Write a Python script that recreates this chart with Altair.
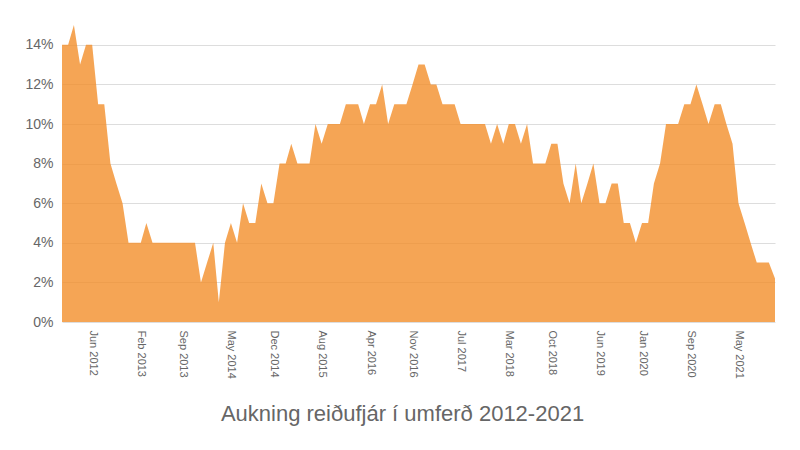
import altair as alt
import pandas as pd

# Monthly growth of currency in circulation (%), Jan 2012 - Nov 2021
values = [
    14, 14, 15, 13, 14, 14, 11, 11, 8, 7, 6, 4,          # 2012
    4, 4, 5, 4, 4, 4, 4, 4, 4, 4, 4, 2,                  # 2013
    3, 4, 1, 4, 5, 4, 6, 5, 5, 7, 6, 6,                  # 2014
    8, 8, 9, 8, 8, 8, 10, 9, 10, 10, 10, 11,             # 2015
    11, 11, 10, 11, 11, 12, 10, 11, 11, 11, 12, 13,      # 2016
    13, 12, 12, 11, 11, 11, 10, 10, 10, 10, 10, 9,       # 2017
    10, 9, 10, 10, 9, 10, 8, 8, 8, 9, 9, 7,              # 2018
    6, 8, 6, 7, 8, 6, 6, 7, 7, 5, 5, 4,                  # 2019
    5, 5, 7, 8, 10, 10, 10, 11, 11, 12, 11, 10,          # 2020
    11, 11, 10, 9, 6, 5, 4, 3, 3, 3, 2.2,                # 2021
]
months = [f"{2012 + i // 12}-{i % 12 + 1:02d}-01T00:00:00" for i in range(len(values))]

tick_months = [
    (2012, 6), (2013, 2), (2013, 9), (2014, 5), (2014, 12), (2015, 8),
    (2016, 4), (2016, 11), (2017, 7), (2018, 3), (2018, 10), (2019, 6),
    (2020, 1), (2020, 9), (2021, 5),
]
y_ticks = [0, 2, 4, 6, 8, 10, 12, 14]

df = pd.DataFrame({"date": months, "value": values})

FONT = "Liberation Sans"
GREY = "#666666"

chart = (
    alt.Chart(df)
    .mark_area(color="#f28e2b", opacity=0.8, interpolate="linear")
    .encode(
        x=alt.X(
            "date:T",
            scale=alt.Scale(
                domain=[alt.DateTime(year=2012, month=1, date=1),
                        alt.DateTime(year=2021, month=11, date=1)],
                nice=False,
            ),
            axis=alt.Axis(
                values=[alt.DateTime(year=y, month=m, date=1) for y, m in tick_months],
                format="%b %Y",
                labelAngle=90,
                labelPadding=8,
                labelFontSize=11,
                labelColor=GREY,
                labelFont=FONT,
                labelOverlap=False,
                labelFlush=False,
                grid=False,
                ticks=False,
                domain=False,
                title=None,
            ),
        ),
        y=alt.Y(
            "value:Q",
            scale=alt.Scale(domain=[0, 15], nice=False),
            axis=alt.Axis(
                values=y_ticks,
                labelExpr="datum.value + '%'",
                labelFontSize=14,
                labelColor=GREY,
                labelFont=FONT,
                labelPadding=9,
                gridColor="#dddddd",
                gridWidth=1,
                ticks=False,
                domain=False,
                title=None,
            ),
        ),
    )
    .properties(
        width=713,
        height=297,
        background="white",
        autosize=alt.AutoSizeParams(type="none"),
        padding={"left": 54, "top": 17, "right": 9, "bottom": 120},
        title=alt.Title(
            "Aukning reiðufjár í umferð 2012-2021",
            orient="bottom",
            anchor="middle",
            fontSize=22,
            font=FONT,
            fontWeight="normal",
            color=GREY,
            offset=26,
            dx=-16,
        ),
    )
    .configure_view(stroke="transparent", strokeWidth=0)
)

chart.save("out.html", embed_options={"renderer": "svg", "actions": False})
